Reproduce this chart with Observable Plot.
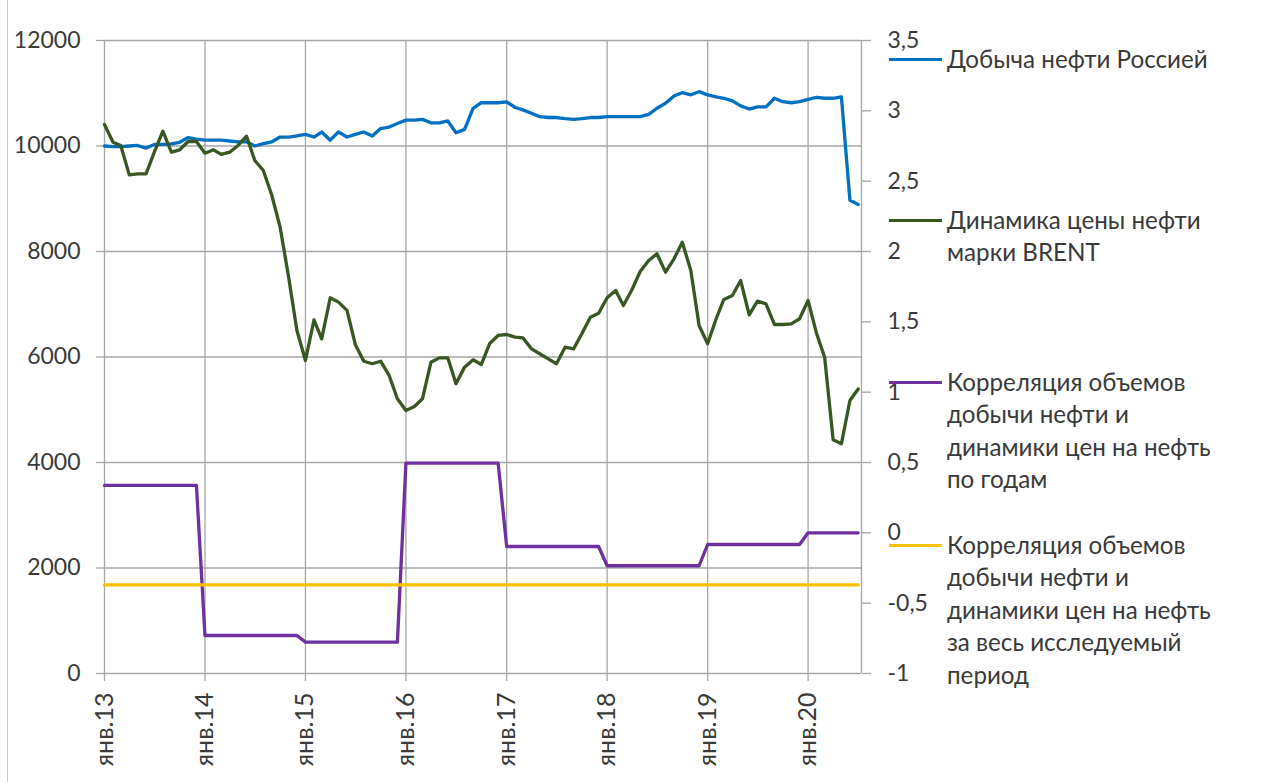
<!DOCTYPE html>
<html><head><meta charset="utf-8">
<script src="https://cdn.jsdelivr.net/npm/d3@7"></script>
<script src="https://cdn.jsdelivr.net/npm/@observablehq/plot@0.6"></script>
<style>
body{margin:0;background:#fff;}
#wrap{position:relative;width:1274px;height:782px;overflow:hidden;font-family:Lato, sans-serif;background:#fff;}
#wrap svg{position:absolute;left:0;top:0;}
.frame{position:absolute;left:7px;top:0;width:1px;height:782px;background:#c8c8c8;}
.leg{position:absolute;left:889px;color:#3a3a3a;font-size:24.2px;line-height:32.4px;}
.sw{position:absolute;left:0;width:53px;height:3px;top:15px;}
.lt{margin-left:58px;white-space:nowrap;}
</style></head><body><div id="wrap"><div class="frame"></div></div>
<script>
const startYear = 2013;
// monthly oil production in Russia (left axis), Jan 2013 .. Jul 2020
const production = [
 10000, 9990, 9990, 10000, 10010, 9960, 10030, 10030, 10040, 10070, 10160, 10130,
 10110, 10110, 10110, 10095, 10080, 10080, 10000, 10045, 10080, 10170, 10170, 10190,
 10220, 10170, 10265, 10110, 10265, 10170, 10220, 10265, 10190, 10330, 10360, 10425,
 10490, 10490, 10505, 10440, 10440, 10475, 10250, 10315, 10715, 10820, 10820, 10820,
 10835, 10730, 10685, 10620, 10557, 10540, 10540, 10520, 10505, 10520, 10540, 10540,
 10557, 10557, 10557, 10557, 10557, 10600, 10715, 10810, 10950, 11010, 10970, 11030,
 10970, 10930, 10905, 10855, 10760, 10700, 10740, 10740, 10905, 10840, 10820, 10840,
 10885, 10920, 10905, 10905, 10930, 8970, 8890
];
// Brent price dynamics (right axis)
const brent = [
 2.903, 2.777, 2.754, 2.545, 2.552, 2.552, 2.706, 2.855, 2.706, 2.723, 2.782, 2.782,
 2.699, 2.723, 2.690, 2.706, 2.754, 2.820, 2.647, 2.576, 2.398, 2.173, 1.817, 1.438,
 1.225, 1.514, 1.379, 1.671, 1.640, 1.581, 1.339, 1.220, 1.202, 1.220, 1.119, 0.953,
 0.870, 0.898, 0.953, 1.213, 1.244, 1.244, 1.060, 1.178, 1.230, 1.197, 1.348, 1.403,
 1.410, 1.391, 1.386, 1.308, 1.273, 1.237, 1.202, 1.320, 1.308, 1.415, 1.533, 1.561,
 1.671, 1.723, 1.616, 1.728, 1.858, 1.936, 1.984, 1.853, 1.948, 2.066, 1.865, 1.474,
 1.344, 1.522, 1.659, 1.687, 1.794, 1.550, 1.647, 1.628, 1.481, 1.481, 1.486, 1.522,
 1.652, 1.415, 1.249, 0.661, 0.633, 0.941, 1.023
];
// correlation by year (right axis)
const corrYears = [2013, 2014, 2015, 2016, 2017, 2018, 2019, 2020];
const corrByYear = [0.337, -0.73, -0.777, 0.495, -0.097, -0.234, -0.083, 0.0];
// correlation for the whole period
const corrTotal = -0.37;

const leftTicks = [0, 2000, 4000, 6000, 8000, 10000, 12000];
const rightTicks = [-1, -0.5, 0, 0.5, 1, 1.5, 2, 2.5, 3, 3.5];
const rightTickLabels = ["-1", "-0,5", "0", "0,5", "1", "1,5", "2", "2,5", "3", "3,5"];
const xTickLabels = ["янв.13", "янв.14", "янв.15", "янв.16", "янв.17", "янв.18", "янв.19", "янв.20"];

const seriesNames = [
 "Добыча нефти Россией",
 "Динамика цены нефти\nмарки BRENT",
 "Корреляция объемов\nдобычи нефти и\nдинамики цен на нефть\nпо годам",
 "Корреляция объемов\nдобычи нефти и\nдинамики цен на нефть\nза весь исследуемый\nпериод"
];
const seriesColors = ["#0070C0", "#385723", "#7030A0", "#FFC000"];
const legendTops = [43, 204, 366, 529];

// right axis -> left axis mapping
const rMin = -1, rMax = 3.5, lMax = 12000;
const L = v => (v - rMin) / (rMax - rMin) * lMax;

const rows = production.map((p, i) => {
  const d = new Date(Date.UTC(startYear, i, 1));
  const yi = corrYears.indexOf(d.getUTCFullYear());
  return {d, prod: p, brent: brent[i], corr: corrByYear[yi], total: corrTotal};
});
const jan = xTickLabels.map((_, i) => new Date(Date.UTC(startYear + i, 0, 1)));
const xEnd = new Date(Date.UTC(2020, 6, 13));
const grid = "#a6a6a6";
const txt = "#3a3a3a";
const lw = 3.3;

const chart = Plot.plot({
  width: 1274, height: 782,
  marginLeft: 104, marginRight: 413, marginTop: 40, marginBottom: 109,
  style: {fontFamily: "Lato, sans-serif", fontSize: "23px", color: txt, background: "transparent", overflow: "visible"},
  x: {type: "utc", domain: [new Date(Date.UTC(startYear, 0, 1)), xEnd]},
  y: {domain: [0, lMax]},
  marks: [
    Plot.gridX(jan, {stroke: grid, strokeOpacity: 1, strokeWidth: 1.3}),
    Plot.gridY(leftTicks, {stroke: grid, strokeOpacity: 1, strokeWidth: 1.3}),
    Plot.ruleX([xEnd], {stroke: grid, strokeWidth: 1.3}),
    Plot.axisY(leftTicks, {anchor: "left", tickSize: 8, tickPadding: 16, stroke: grid, strokeWidth: 1.3, fill: txt, fontSize: 23,
      tickFormat: d => String(d), label: null}),
    Plot.axisY(rightTicks.map(L), {anchor: "right", tickSize: 9, tickPadding: 17, stroke: grid, strokeWidth: 1.3, fill: txt, fontSize: 23,
      tickFormat: d => rightTickLabels[rightTicks.findIndex(t => Math.abs(L(t) - d) < 1e-6)], label: null}),
    Plot.axisX(jan, {anchor: "bottom", tickSize: 8, tickPadding: 11, tickRotate: -90, stroke: grid, strokeWidth: 1.3, fill: txt, fontSize: 25,
      tickFormat: d => xTickLabels[d.getUTCFullYear() - startYear], label: null}),
    Plot.lineY(rows, {x: "d", y: "prod", stroke: seriesColors[0], strokeWidth: lw}),
    Plot.lineY(rows, {x: "d", y: d => L(d.brent), stroke: seriesColors[1], strokeWidth: lw}),
    Plot.lineY(rows, {x: "d", y: d => L(d.corr), stroke: seriesColors[2], strokeWidth: lw}),
    Plot.lineY(rows, {x: "d", y: d => L(d.total), stroke: seriesColors[3], strokeWidth: lw})
  ]
});
const wrap = document.getElementById("wrap");
wrap.appendChild(chart);

seriesNames.forEach((name, i) => {
  const div = document.createElement("div");
  div.className = "leg";
  div.style.top = legendTops[i] + "px";
  const sw = document.createElement("div");
  sw.className = "sw";
  sw.style.background = seriesColors[i];
  div.appendChild(sw);
  name.split("\n").forEach(line => {
    const t = document.createElement("div");
    t.className = "lt";
    t.textContent = line;
    div.appendChild(t);
  });
  wrap.appendChild(div);
});
</script></body></html>
